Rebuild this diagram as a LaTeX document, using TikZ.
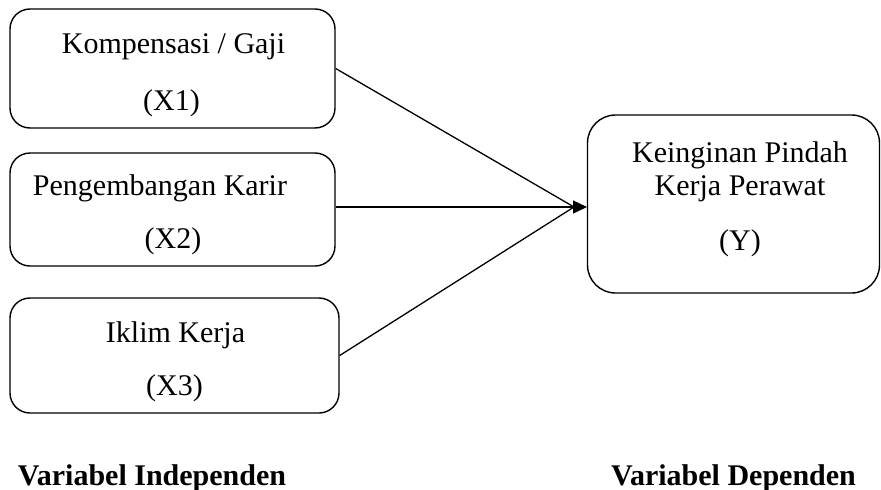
\documentclass[tikz,border=0pt]{standalone}
\usepackage{fontspec}
\setmainfont{Liberation Serif}
\usetikzlibrary{arrows.meta}
\begin{document}
\begin{tikzpicture}[x=1pt,y=-1pt,
  box/.style={draw,line width=1.4pt,rounded corners=20pt,inner sep=0pt},
  lbl/.style={anchor=base,inner sep=0pt,font=\fontsize{30}{36}\selectfont},
  blbl/.style={anchor=base,inner sep=0pt,font=\fontsize{30}{36}\selectfont\bfseries},
  conn/.style={line width=1.3pt},
  arr/.style={conn,-{Triangle[length=14pt,width=13pt]}}]
\useasboundingbox (0,0) rectangle (881,490);
\node[box,minimum width=325pt,minimum height=119pt] (b1) at (172.5,68.5) {};
\node[box,minimum width=325pt,minimum height=113pt] (b2) at (172.5,209.5) {};
\node[box,minimum width=329pt,minimum height=115pt] (b3) at (174.5,355.5) {};
\node[box,rounded corners=28pt,minimum width=292pt,minimum height=178pt] (y) at (733.5,204) {};
\node[lbl] (t1a) at (173.5,53) {Kompensasi / Gaji};
\node[lbl] (t1b) at (171.5,110) {(X1)};
\node[lbl] (t2a) at (160,195) {Pengembangan Karir};
\node[lbl] (t2b) at (173,248) {(X2)};
\node[lbl] (t3a) at (175.5,342) {Iklim Kerja};
\node[lbl] (t3b) at (174.5,395) {(X3)};
\node[lbl] (tya) at (740,162) {Keinginan Pindah};
\node[lbl] (tyb) at (740,195) {Kerja Perawat};
\node[lbl] (tyc) at (740,250) {(Y)};
\node[blbl] (vi) at (152,485) {Variabel Independen};
\node[blbl] (vd) at (733.5,485) {Variabel Dependen};
\coordinate (tip) at (587,207);
\coordinate (meet) at (574,207);
\draw[conn] (b1.east) -- (meet);
\draw[arr] (b2.east |- tip) -- (tip);
\draw[conn] (b3.east) -- (meet);
\end{tikzpicture}
\end{document}
